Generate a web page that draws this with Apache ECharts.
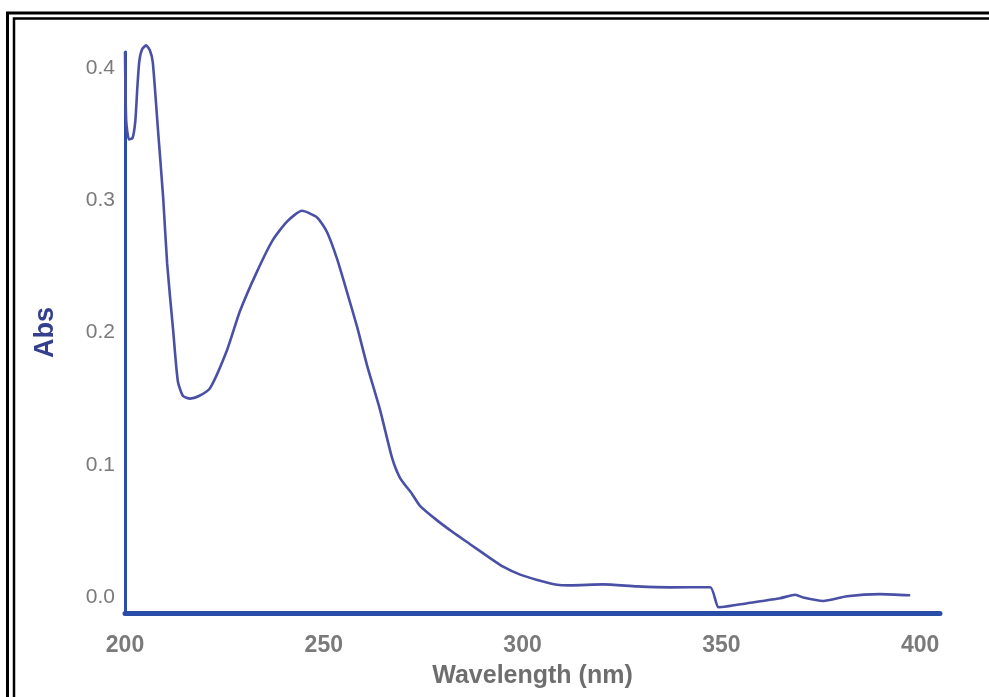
<!DOCTYPE html>
<html>
<head>
<meta charset="utf-8">
<script src="https://cdn.jsdelivr.net/npm/echarts@6/dist/echarts.min.js"></script>
<style>
html,body{margin:0;padding:0;background:#fff;}
#chart{width:989px;height:697px;}
</style>
</head>
<body>
<div id="chart"></div>
<script>
// Wavelength (nm) and absorbance
const wavelength = [200.0, 200.3, 201.0, 201.9, 202.6, 203.1, 203.6, 204.3, 205.3, 206.3, 207.0, 208.3, 209.6, 210.6, 212.1, 213.3, 214.6, 216.4, 218.6, 221.4, 225.7, 228.9, 233.2, 237.2, 240.8, 244.5, 248.3, 250.8, 253.3, 255.9, 258.4, 260.9, 264.2, 267.2, 269.2, 272.2, 274.2, 278.5, 282.5, 286.8, 291.1, 295.1, 299.4, 303.7, 308.7, 312.0, 320.3, 328.8, 337.1, 347.2, 349.2, 350.2, 356.5, 364.8, 368.6, 370.6, 375.6, 381.6, 389.9, 397.5];
const absorbance = [0.412, 0.360, 0.346, 0.347, 0.360, 0.385, 0.405, 0.414, 0.417, 0.413, 0.404, 0.353, 0.302, 0.252, 0.202, 0.163, 0.152, 0.150, 0.152, 0.158, 0.187, 0.216, 0.246, 0.270, 0.284, 0.292, 0.287, 0.276, 0.256, 0.230, 0.204, 0.175, 0.141, 0.105, 0.090, 0.078, 0.069, 0.058, 0.049, 0.040, 0.031, 0.023, 0.017, 0.013, 0.0093, 0.0089, 0.0096, 0.0081, 0.0074, 0.0075, -0.0076, -0.0075, -0.0046, -0.0008, 0.0018, -0.0003, -0.0029, 0.0007, 0.0023, 0.0014];
const xTicks = [200, 250, 300, 350, 400];
const yTicks = [0.0, 0.1, 0.2, 0.3, 0.4];

const chart = echarts.init(document.getElementById('chart'), null, {renderer: 'canvas'});
const data = wavelength.map((w, i) => [w, absorbance[i]]);
const axisBlue = '#2a4ea8';
const labelGray = '#7a7a7a';

chart.setOption({
  backgroundColor: '#ffffff',
  animation: false,
  grid: {left: 125, right: 49, top: 52, bottom: 84, outerBoundsMode: 'none', containLabel: false},
  xAxis: {
    type: 'value', min: 200, max: 405,
    name: 'Wavelength (nm)', nameLocation: 'middle', nameGap: 51,
    nameTextStyle: {fontFamily: 'Liberation Sans', fontWeight: 'bold', fontSize: 25, color: '#6e6e6e'},
    axisLine: {onZero: false, lineStyle: {color: axisBlue, width: 5}},
    axisTick: {show: false},
    splitLine: {show: false},
    axisLabel: {customValues: xTicks, margin: 21, fontFamily: 'Liberation Sans', fontWeight: 'bold', fontSize: 23, color: labelGray}
  },
  yAxis: {
    type: 'value', min: -0.012, max: 0.412,
    name: 'Abs', nameLocation: 'middle', nameRotate: 90, nameGap: 66,
    nameTextStyle: {fontFamily: 'Liberation Sans', fontWeight: 'bold', fontSize: 27, color: '#34408e'},
    axisLine: {onZero: false, lineStyle: {color: axisBlue, width: 3}},
    axisTick: {show: false},
    splitLine: {show: false},
    axisLabel: {customValues: yTicks, margin: 10, formatter: v => v.toFixed(1), fontFamily: 'Liberation Sans', fontSize: 21, color: labelGray}
  },
  series: [{
    type: 'line', data: data, showSymbol: false, smooth: 0.2, clip: false,
    lineStyle: {color: '#4a50a6', width: 2.6}
  }],
  graphic: [
    {type: 'rect', shape: {x: 7.5, y: 13, width: 1000, height: 700}, style: {fill: 'none', stroke: '#000', lineWidth: 3}, silent: true},
    {type: 'rect', shape: {x: 14, y: 18.5, width: 1000, height: 700}, style: {fill: 'none', stroke: '#000', lineWidth: 2.5}, silent: true}
  ]
});
</script>
</body>
</html>
